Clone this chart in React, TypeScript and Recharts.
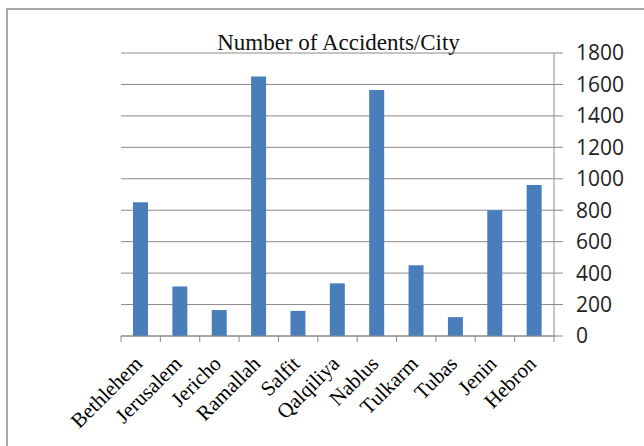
import { BarChart, Bar, XAxis, YAxis, CartesianGrid } from 'recharts'

const CITIES = [
  'Bethlehem',
  'Jerusalem',
  'Jericho',
  'Ramallah',
  'Salfit',
  'Qalqiliya',
  'Nablus',
  'Tulkarm',
  'Tubas',
  'Jenin',
  'Hebron',
]
const ACCIDENTS = [850, 315, 165, 1650, 160, 335, 1565, 450, 120, 800, 960]
const Y_TICKS = [0, 200, 400, 600, 800, 1000, 1200, 1400, 1600, 1800]
const TITLE = 'Number of Accidents/City'

const data = CITIES.map((city, i) => ({ city, value: ACCIDENTS[i] }))

const W = 644
const H = 446
const M = { top: 53, right: 10, bottom: 10, left: 121 }
const Y_AXIS_W = 80
const X_AXIS_H = 100
const PLOT_W = W - M.left - M.right - Y_AXIS_W
const HALF_BAND = PLOT_W / CITIES.length / 2
const AXIS_GRAY = '#8a8a8a'

function CityTick(props: any) {
  const { x, y, payload, index } = props
  const last = index === CITIES.length - 1
  const tx = x + 3
  const ty = y + 29
  return (
    <g>
      <line x1={x - HALF_BAND} y1={y} x2={x - HALF_BAND} y2={y + 6} stroke={AXIS_GRAY} />
      {last && <line x1={x + HALF_BAND} y1={y} x2={x + HALF_BAND} y2={y + 6} stroke={AXIS_GRAY} />}
      <text
        x={tx}
        y={ty}
        textAnchor="end"
        transform={`rotate(-45, ${tx}, ${ty})`}
        fontFamily="'Liberation Serif', 'Times New Roman', serif"
        fontSize={21}
        fill="#000"
      >
        {payload.value}
      </text>
    </g>
  )
}

export default function App() {
  return (
    <div style={{ position: 'absolute', left: 0, top: 0, width: W, height: H, overflow: 'hidden', background: '#fff' }}>
      <div
        style={{
          position: 'absolute',
          left: 6,
          top: 8,
          width: 800,
          height: 600,
          border: '2px solid #a6a6a6',
        }}
      />
      <div style={{ position: 'absolute', left: 0, top: 0 }}>
        <BarChart width={W} height={H} data={data} margin={M}>
          <CartesianGrid vertical={false} stroke={AXIS_GRAY} />
          <XAxis
            dataKey="city"
            height={X_AXIS_H}
            interval={0}
            tickLine={false}
            tickSize={0}
            tickMargin={0}
            axisLine={{ stroke: AXIS_GRAY }}
            tick={<CityTick />}
          />
          <YAxis
            orientation="right"
            width={Y_AXIS_W}
            domain={[0, 1800]}
            ticks={Y_TICKS}
            interval={0}
            tickSize={9}
            tickMargin={13}
            axisLine={{ stroke: AXIS_GRAY }}
            tickLine={{ stroke: AXIS_GRAY }}
            tick={{ fontFamily: "'Open Sans', sans-serif", fontSize: 21, fill: '#222' }}
          />
          <Bar dataKey="value" fill="#4a7ebb" barSize={15} isAnimationActive={false} />
        </BarChart>
      </div>
      <div
        style={{
          position: 'absolute',
          left: 0,
          width: 677,
          top: 32,
          textAlign: 'center',
          fontFamily: "'Liberation Serif', 'Times New Roman', serif",
          fontSize: 23,
          lineHeight: '22px',
          color: '#111',
          whiteSpace: 'nowrap',
        }}
      >
        {TITLE}
      </div>
    </div>
  )
}
